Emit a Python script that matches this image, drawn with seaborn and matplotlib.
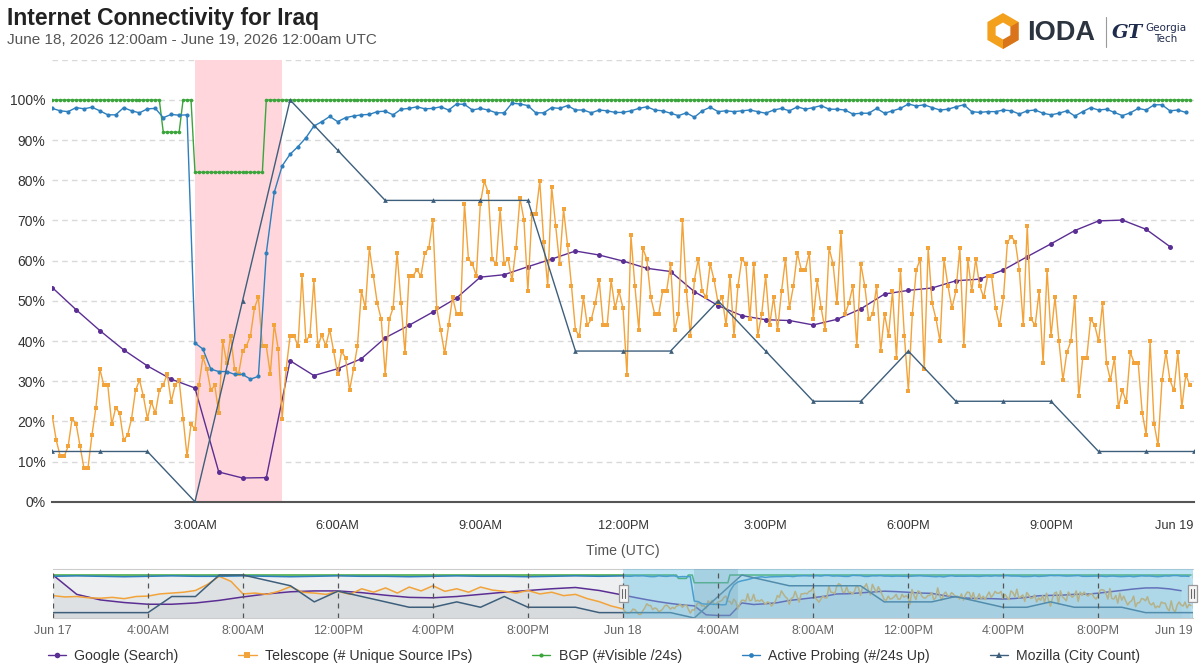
import numpy as np
import matplotlib
matplotlib.use("Agg")
import matplotlib.pyplot as plt
import seaborn as sns
from matplotlib.patches import Polygon, Rectangle
from matplotlib.lines import Line2D

sns.set_theme(style="white")
plt.rcParams['font.family'] = ['Liberation Sans', 'DejaVu Sans']

# ---------------- data (percent of max, June 18 2026 UTC) ----------------
series_names = ["Google (Search)", "Telescope (# Unique Source IPs)", "BGP (#Visible /24s)",
                "Active Probing (#/24s Up)", "Mozilla (City Count)"]

# Google, every 30 min
google = [53.3, 47.8, 42.6, 37.8, 33.8, 30.5, 28.3, 7.4, 5.9, 6.0, 35.1, 31.4, 33.1, 35.6,
          40.8, 43.9, 47.2, 50.7, 55.9, 56.5, 58.5, 60.4, 62.4, 61.4, 59.9, 58.1, 57.3, 52.3,
          48.8, 46.3, 45.3, 45.1, 44.0, 45.4, 48.0, 51.7, 52.6, 53.2, 55.0, 55.4, 57.7, 61.0,
          64.2, 67.5, 69.9, 70.1, 67.8, 63.5]

# Telescope, every 5 min
telescope = [
    21.2, 15.3, 11.3, 11.3, 13.8, 20.7, 19.4, 13.8, 8.3, 8.3, 16.6, 23.4, 33.0, 29.0, 29.0,
    19.3, 23.4, 22.0, 15.3, 16.6, 20.7, 27.7, 30.3, 26.2, 20.7, 24.9, 22.0, 27.7, 29.0, 31.8,
    24.9, 29.0, 30.3, 20.7, 11.3, 19.3, 18.1,
    29.0, 36.0, 33.0, 27.7, 29.0, 22.0, 40.0, 34.6, 41.3, 33.0, 31.8, 37.4, 38.8, 41.3, 48.2,
    50.9, 38.7, 38.7, 31.8, 44.1, 38.0, 20.7, 33.0, 41.3, 41.3, 38.7, 56.5, 40.1, 41.3, 55.1,
    38.8, 41.5, 38.8, 42.8, 37.4, 31.8, 37.4, 35.8, 27.7, 33.0, 38.8, 52.4, 48.2, 63.1, 56.2,
    49.4, 45.4, 31.6, 45.4, 48.2, 61.9,
    49.4, 36.9, 56.2, 56.2, 57.7, 56.2, 61.9, 63.1, 70.2, 48.2, 42.7, 36.9, 43.9, 50.9, 46.7,
    46.7, 74.2, 60.4, 59.2, 56.2, 74.2, 79.8, 77.0, 60.4, 59.2, 72.8, 59.2, 60.4, 55.1, 63.1,
    75.6, 70.2, 52.4, 71.5, 71.5, 79.8, 64.6, 53.7, 78.4, 68.7, 59.2, 72.8,
    64.0, 53.7, 42.7, 41.3, 50.9, 43.9, 45.4, 49.4, 55.1, 43.9, 43.9, 55.1, 48.2, 52.4, 48.2,
    31.6, 66.3, 53.7, 42.7, 63.1, 60.4, 50.9, 46.7, 46.7, 52.4, 52.4, 59.2, 42.7, 46.7, 70.2,
    52.4, 41.3, 55.1, 60.4, 52.4, 50.9, 59.2, 55.1, 49.4, 50.9, 43.9, 56.2, 41.3, 53.7, 60.4,
    59.2, 45.4, 59.2, 41.3, 46.7, 56.2, 43.9, 50.9, 42.7,
    52.4, 60.4, 48.2, 53.7, 61.9, 57.7, 57.7, 61.9, 45.4, 55.1, 48.2, 42.7, 63.1, 59.2, 49.4,
    67.1, 46.7, 49.4, 53.7, 38.7, 59.2, 53.7, 45.4, 46.7, 53.7, 37.4, 46.7, 41.3, 52.4, 35.8,
    57.7, 41.3, 27.6, 46.7, 57.7, 60.4, 33.0, 63.1, 49.4, 45.4, 39.9, 60.4, 53.7, 48.2, 52.4,
    63.1, 38.7, 60.4, 52.4, 60.4, 53.7, 50.9, 56.2, 56.2, 48.2, 43.9, 50.9, 64.6, 66.0, 64.6,
    57.7, 43.9, 68.7, 45.4, 43.9, 52.4,
    34.5, 57.7, 41.3, 50.9, 39.9, 30.3, 37.2, 39.9, 50.9, 26.2, 35.7, 35.7, 45.4, 44.0, 39.9,
    49.4, 34.5, 30.3, 35.7, 23.5, 27.7, 24.9, 37.2, 34.5, 34.5, 22.2, 16.7, 39.9, 19.4, 14.0,
    30.3, 37.2, 30.3, 27.7, 37.2, 23.5, 31.6, 29.0]

# BGP, every 5 min, as (count, level) runs
bgp_runs = [(28, 100.0), (5, 92.0), (3, 100.0), (18, 82.0), (234, 100.0)]

# Active probing, every 10 min
active_probing = [
    97.9, 97.3, 97.1, 98.1, 97.8, 98.2, 97.3, 96.3, 96.3, 98.1, 97.3, 96.8, 97.8, 97.9, 95.6,
    96.4, 96.2, 96.3,
    39.5, 38.0, 33.0, 32.4, 32.4, 31.7, 31.7, 30.5, 31.2, 61.9, 77.0, 83.6, 86.5, 88.4, 90.6,
    93.5, 94.6, 95.9, 94.6, 95.6, 96.0, 96.3, 96.4, 97.1, 97.2, 96.3, 97.7,
    97.9, 98.3, 97.8, 97.9, 98.3, 97.5, 99.0, 98.9, 97.5, 97.9, 97.5, 96.8, 96.8, 99.2, 99.0,
    98.6, 96.8, 96.8, 98.1, 97.9, 98.6, 97.5, 97.5, 96.8, 97.5, 97.3, 96.9, 96.9, 97.3, 97.9,
    98.3, 97.5, 97.3, 96.7, 96.1, 96.8, 95.7, 97.3, 98.2, 97.1, 97.3, 97.1, 97.3, 97.5, 97.1,
    96.7, 97.5,
    97.9, 97.3, 98.3, 97.7, 98.1, 98.6, 97.7, 97.7, 97.5, 96.5, 96.7, 96.7, 97.9, 96.7, 97.3,
    97.9, 99.0, 98.5, 98.8, 98.1, 97.5, 97.7, 98.3, 98.8, 97.1, 96.9, 97.1, 97.1, 97.5, 97.3,
    96.5, 97.3, 97.5, 96.7, 96.3, 96.7, 97.3, 96.0, 97.1, 98.1, 97.5, 97.7, 96.9, 96.1, 96.8,
    97.9, 97.5, 98.8, 98.8, 97.3, 97.5, 96.9]

# Mozilla, hourly
mozilla = [12.5, 12.5, 12.5, 0, 50, 100, 87.5, 75, 75, 75, 75, 37.5, 37.5, 37.5, 50, 37.5,
           25, 25, 37.5, 25, 25, 25, 12.5, 12.5, 12.5]

# navigator: previous day (June 17), coarse readings
nav_google_prev = [100, 55, 42, 36, 32, 32, 35, 41, 49, 56, 61, 63, 63, 59, 53, 48, 47, 50,
                   55, 60, 64, 68, 71, 64]
nav_tele_prev = [52, 49, 50, 47, 46, 48, 45, 50, 51, 56, 58, 60, 64, 78, 97, 85, 56, 58, 55,
                 62, 73, 60, 58, 55, 62, 55, 68, 60, 70, 58, 72, 63, 75, 62, 68, 60, 72, 65,
                 62, 58, 64, 56, 60, 52, 55, 45, 38, 28]
nav_bgp_prev = [100, 100, 100, 100, 100, 100, 100, 100, 100, 100, 100, 100, 100, 100, 100,
                100, 100, 100, 100, 100, 100, 100, 100, 100]
nav_ap_prev = [97, 98, 97, 96, 97, 98, 97, 97, 98, 97, 96, 97, 98, 97, 97, 96, 97, 98, 97, 97,
               96, 97, 98, 97]
nav_moz_prev = [12.5, 12.5, 12.5, 12.5, 12.5, 50, 50, 100, 100, 87.5, 75, 37.5, 62.5, 50,
                37.5, 25, 25, 37.5, 25, 50, 25, 25, 25, 12.5]

outage = (3.0, 4.83)
x_ticks = [3, 6, 9, 12, 15, 18, 21, 24]
x_labels = ["3:00AM", "6:00AM", "9:00AM", "12:00PM", "3:00PM", "6:00PM", "9:00PM", "Jun 19"]
nav_ticks = list(range(0, 49, 4))
nav_labels = ["Jun 17", "4:00AM", "8:00AM", "12:00PM", "4:00PM", "8:00PM", "Jun 18",
              "4:00AM", "8:00AM", "12:00PM", "4:00PM", "8:00PM", "Jun 19"]

colors = ["#5b2e94", "#f2a33a", "#3aa53a", "#2d7fbd", "#3d5f7c"]
markers = ["o", "s", "o", "o", "^"]
msizes = [3.6, 3.4, 2.6, 3.0, 3.4]

# ---------------- derived series ----------------
bgp = np.repeat([v for _, v in bgp_runs], [n for n, _ in bgp_runs])


def times(vals, step):
    return np.arange(len(vals)) * step


main = [
    (times(google, 0.5), np.array(google)),
    (times(telescope, 1 / 12), np.array(telescope)),
    (times(bgp, 1 / 12), bgp),
    (times(active_probing, 1 / 6), np.array(active_probing)),
    (times(mozilla, 1.0), np.array(mozilla)),
]
prev = [
    (times(nav_google_prev, 1.0), nav_google_prev),
    (times(nav_tele_prev, 0.5), nav_tele_prev),
    (times(nav_bgp_prev, 1.0), nav_bgp_prev),
    (times(nav_ap_prev, 1.0), nav_ap_prev),
    (times(nav_moz_prev, 1.0), nav_moz_prev),
]

W, H = 1200, 672
fig = plt.figure(figsize=(W / 100, H / 100), dpi=100)
fig.patch.set_facecolor("white")


def fx(px):
    return px / W


def fy(py):
    return 1 - py / H


# ---------------- main chart ----------------
ax = fig.add_axes([fx(52.3), fy(501.7), (1193.7 - 52.3) / W, (501.7 - 59.8) / H])
ax.set_facecolor("white")
ax.axvspan(*outage, color="#ffd6dc", lw=0, zorder=1)

for (t, v), c, m, ms in zip(main, colors, markers, msizes):
    sns.lineplot(x=t, y=v, ax=ax, color=c, linewidth=1.0, marker=m, markersize=ms,
                 markeredgewidth=0, estimator=None, sort=False, legend=False, zorder=3)

ax.set_xlim(0, 24)
ax.set_ylim(0, 110)
ax.set_yticks(range(0, 111, 10))
ax.set_yticklabels([f"{v}%" for v in range(0, 101, 10)] + [""])
ax.yaxis.grid(True, color="#d9d9d9", lw=1, ls=(0, (4, 3)))
ax.set_axisbelow(True)
ax.set_xticks(x_ticks)
ax.set_xticklabels(x_labels)
ax.tick_params(axis="y", length=0, pad=5, labelsize=10, labelcolor="#333333")
ax.tick_params(axis="x", length=8, width=1.2, color="#555555", direction="out", pad=5,
               labelsize=9.2, labelcolor="#333333")
ax.get_xticklabels()[-1].set_horizontalalignment("right")
for s in ["left", "right", "top"]:
    ax.spines[s].set_visible(False)
ax.spines["bottom"].set_color("#555555")
ax.spines["bottom"].set_linewidth(1.5)
ax.set_xlabel("")
ax.set_ylabel("")
fig.text(fx(623), fy(551), "Time (UTC)", ha="center", va="center", fontsize=10.2,
         color="#555555")

# ---------------- navigator ----------------
nav = fig.add_axes([fx(53), fy(618), (1193 - 53) / W, (618 - 569) / H])
nav.set_facecolor("white")
for i, c in enumerate(colors):
    t = np.concatenate([prev[i][0], main[i][0] + 24])
    v = np.concatenate([prev[i][1], main[i][1]])
    nav.fill_between(t, 0, v, color="#8e9aa0", alpha=0.08, lw=0, zorder=1)
    nav.plot(t, v, color=c, lw=1.1, marker="None", zorder=2)
nav.axvspan(24 + outage[0], 24 + outage[1], color="#7d8c96", alpha=0.3, lw=0, zorder=3)
nav.axvspan(24, 48, color="#6cc4e8", alpha=0.45, lw=0, zorder=4)
for t in nav_ticks:
    nav.axvline(t, color="#555555", lw=0.9, ls=(0, (4, 4)), zorder=5)
nav.set_xlim(0, 48)
nav.set_ylim(0, 114)
nav.set_yticks([])
nav.set_xticks(nav_ticks)
nav.set_xticklabels(nav_labels)
nav.get_xticklabels()[-1].set_horizontalalignment("right")
nav.tick_params(axis="x", length=0, pad=5, labelsize=9, labelcolor="#666666")
nav.set_xlabel("")
nav.set_ylabel("")
for s in nav.spines.values():
    s.set_color("#cccccc")
    s.set_linewidth(0.8)
nav.spines["left"].set_visible(False)
nav.spines["right"].set_visible(False)

for hx in (623.5, 1192.5):
    fig.patches.append(Rectangle((fx(hx - 4.5), fy(602)), 9 / W, 17 / H,
                                 transform=fig.transFigure, facecolor="#f5f5f5",
                                 edgecolor="#999999", lw=0.9, zorder=10))
    for dx in (-1.5, 1.5):
        fig.lines.append(Line2D([fx(hx + dx)] * 2, [fy(598), fy(589)],
                                transform=fig.transFigure, color="#666666", lw=0.8,
                                zorder=11))

# ---------------- legend ----------------
handles = [Line2D([], [], color=c, lw=1.0, marker=m, markersize=ms + 0.4, markeredgewidth=0)
           for c, m, ms in zip(colors, markers, msizes)]
fig.legend(handles, series_names, loc="center", bbox_to_anchor=(fx(594), fy(656)),
           ncol=5, frameon=False, fontsize=10.2, handlelength=1.3, handletextpad=0.6,
           columnspacing=4.2, labelcolor="#333333")

# ---------------- header ----------------
fig.text(fx(7), fy(18), "Internet Connectivity for Iraq", fontsize=16.5, weight="bold",
         color="#222222", ha="left", va="center")
fig.text(fx(7), fy(40), "June 18, 2026 12:00am - June 19, 2026 12:00am UTC", fontsize=11,
         color="#555555", ha="left", va="center")

# IODA logo
cx, cy = 1003, 31


def hexagon(r):
    return [(fx(cx + r * np.cos(np.deg2rad(90 + 60 * k))),
             fy(cy - r * np.sin(np.deg2rad(90 + 60 * k)))) for k in range(6)]


outer = hexagon(18)
fig.patches.append(Polygon(outer, closed=True, transform=fig.transFigure,
                           facecolor="#f3a11d", lw=0))
fig.patches.append(Polygon([(fx(cx), fy(cy)), outer[5], outer[4], outer[3]], closed=True,
                           transform=fig.transFigure, facecolor="#d9741b", lw=0))
fig.patches.append(Polygon(hexagon(8.5), closed=True, transform=fig.transFigure,
                           facecolor="white", lw=0))
fig.text(fx(1027), fy(33), "IODA", fontsize=19.5, weight="bold", color="#2c3440",
         ha="left", va="center")
fig.lines.append(Line2D([fx(1106)] * 2, [fy(17), fy(47)], transform=fig.transFigure,
                        color="#9a9a9a", lw=0.8))
fig.text(fx(1112), fy(33), "GT", fontsize=14, weight="bold", style="italic",
         family="DejaVu Serif", color="#1f2b4c", ha="left", va="center")
fig.text(fx(1166), fy(28), "Georgia", fontsize=7.5, color="#1f2b4c", ha="center",
         va="center", family="DejaVu Sans")
fig.text(fx(1166), fy(39), "Tech", fontsize=7.5, color="#1f2b4c", ha="center",
         va="center", family="DejaVu Sans")

fig.savefig("out.png", dpi=100, facecolor="white")
